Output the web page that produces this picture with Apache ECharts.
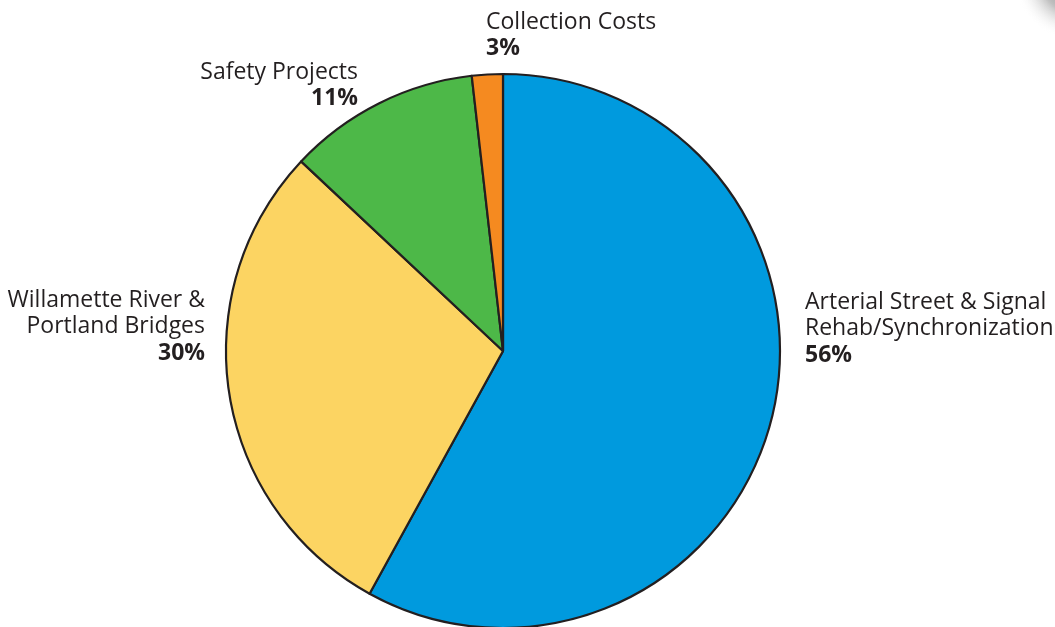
<!DOCTYPE html>
<html>
<head>
<meta charset="utf-8">
<script src="https://cdn.jsdelivr.net/npm/echarts@6/dist/echarts.min.js"></script>
<style>
html, body { margin: 0; padding: 0; background: #fff; }
#main { width: 1055px; height: 627px; }
</style>
</head>
<body>
<div id="main"></div>
<script>
// slice names, clockwise from 12 o'clock
var names = [
  'Arterial Street & Signal\nRehab/Synchronization',
  'Willamette River &\nPortland Bridges',
  'Safety Projects',
  'Collection Costs'
];
// slice sizes as drawn (angles)
var values = [58, 29, 11.2, 1.8];
// percentages printed in the labels
var shownPct = ['56%', '30%', '11%', '3%'];
var colors = ['#009ADE', '#FCD462', '#4DB848', '#F58A20'];

// where each label block sits (left/right edge, top)
var labelSpots = [
  { x: 805, y: 289, align: 'left' },
  { x: 205, y: 287, align: 'right' },
  { x: 358, y: 59, align: 'right' },
  { x: 486, y: 9, align: 'left' }
];

var chart = echarts.init(document.getElementById('main'));

var pieData = names.map(function (n, i) {
  return { name: n, value: values[i], itemStyle: { color: colors[i] } };
});

var option = {
  animation: false,
  graphic: [
    {
      // grey page-curl shadow in the top right corner
      type: 'circle',
      shape: { cx: 1075, cy: -20, r: 60 },
      style: {
        fill: {
          type: 'radial', x: 0.5, y: 0.5, r: 0.5,
          colorStops: [
            { offset: 0, color: 'rgba(90,90,90,0.9)' },
            { offset: 0.55, color: 'rgba(130,130,130,0.5)' },
            { offset: 1, color: 'rgba(255,255,255,0)' }
          ]
        }
      },
      z: 0
    }
  ],
  series: [
    {
      type: 'pie',
      center: [503, 351],
      radius: [0, 277],
      startAngle: 90,
      clockwise: true,
      avoidLabelOverlap: false,
      itemStyle: { borderColor: '#231F20', borderWidth: 2.2 },
      emphasis: { disabled: true },
      labelLine: { show: false },
      label: {
        show: true,
        position: 'outside',
        color: '#231F20',
        formatter: function (p) {
          var lines = p.name.split('\n').map(function (l) { return '{n|' + l + '}'; });
          return lines.join('\n') + '\n{p|' + shownPct[p.dataIndex] + '}';
        },
        rich: {
          n: { fontFamily: 'Open Sans', fontSize: 23, lineHeight: 26.5, color: '#231F20' },
          p: { fontFamily: 'Open Sans', fontSize: 23, fontWeight: 'bold', lineHeight: 26.5, color: '#231F20' }
        }
      },
      labelLayout: function (params) {
        var s = labelSpots[params.dataIndex];
        return { x: s.x, y: s.y, align: s.align, verticalAlign: 'top', hideOverlap: false };
      },
      data: pieData
    }
  ]
};

chart.setOption(option);
</script>
</body>
</html>
